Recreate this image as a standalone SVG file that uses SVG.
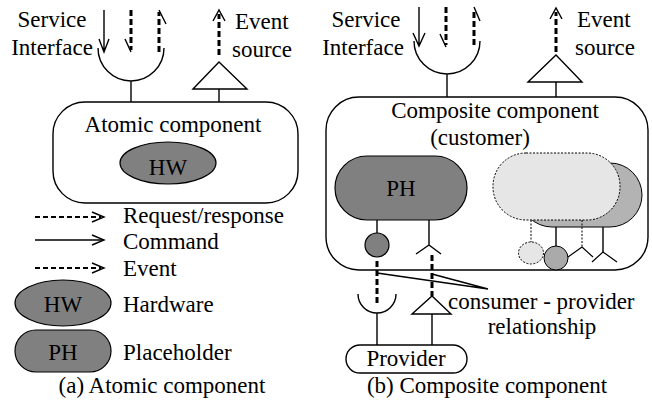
<svg xmlns="http://www.w3.org/2000/svg" width="652" height="407" viewBox="0 0 652 407" font-family="Liberation Serif, Times New Roman, serif" font-size="23">
<style>
.m{text-anchor:middle}
.ln{fill:none;stroke:#000;stroke-width:1.4}
.dsh{fill:none;stroke:#000;stroke-width:3;stroke-dasharray:6 3}
.ldsh{fill:none;stroke:#000;stroke-width:2;stroke-dasharray:5 3}
.dot{stroke:#000;stroke-width:1;stroke-dasharray:2 1.5}
.dark{fill:#808080;stroke:#000;stroke-width:1.2}
</style>
<rect width="652" height="407" fill="#fff"/>

<!-- ===== (a) Atomic component ===== -->
<g id="service-interface-a">
  <text class="m" x="52" y="27" font-family="Liberation Serif">Service</text>
  <text class="m" x="52" y="55" font-family="Liberation Serif">Interface</text>
  <path class="ln" d="M98,48 A33,33 0 0 0 164,48 M131,81 V102"/>
</g>
<g id="event-source-a">
  <path class="ln" d="M193,89 L219,62 L247,89 Z M219,89 V102"/>
  <text x="235" y="29" font-family="Liberation Serif">Event</text>
  <text x="232" y="57" font-family="Liberation Serif">source</text>
</g>
<g id="atomic-component">
  <rect x="53" y="102" width="245" height="101" rx="32" ry="32" fill="#fff" stroke="#000" stroke-width="1.4"/>
  <text class="m" x="173" y="132" font-family="Liberation Serif">Atomic component</text>
  <ellipse class="dark" cx="168" cy="163" rx="48" ry="21"/>
  <text class="m" x="168" y="175" font-family="Liberation Serif">HW</text>
</g>
<g id="legend">
  <path class="ldsh" d="M35,217 H101"/>
  <path class="ln" d="M92,212 L104,217 L92,222"/>
  <text x="123" y="223" font-family="Liberation Serif">Request/response</text>
  <path class="ln" d="M35,240 H102"/>
  <path class="ln" d="M92,235 L104,240 L92,245"/>
  <text x="123" y="249" font-family="Liberation Serif">Command</text>
  <path class="ldsh" d="M35,268 H101"/>
  <path class="ln" d="M92,263 L104,268 L92,273"/>
  <text x="123" y="276" font-family="Liberation Serif">Event</text>
  <ellipse class="dark" cx="63" cy="303" rx="48" ry="23"/>
  <text class="m" x="63" y="312" font-family="Liberation Serif">HW</text>
  <text x="123" y="312" font-family="Liberation Serif">Hardware</text>
  <rect class="dark" x="15" y="330" width="96" height="42" rx="21" ry="21"/>
  <text class="m" x="63" y="360" font-family="Liberation Serif">PH</text>
  <text x="123" y="360" font-family="Liberation Serif">Placeholder</text>
  <text class="m" x="162" y="393" font-family="Liberation Serif">(a) Atomic component</text>
</g>

<!-- ===== (b) Composite component ===== -->
<g id="service-interface-b">
  <text class="m" x="366" y="27" font-family="Liberation Serif">Service</text>
  <text class="m" x="363" y="55" font-family="Liberation Serif">Interface</text>
  <path class="ln" d="M414,41 A33,33 0 0 0 480,41 M447,74 V97"/>
</g>
<g id="event-source-b">
  <path class="ln" d="M528,82 L556,55 L582,82 Z M556,82 V97"/>
  <text x="577" y="27" font-family="Liberation Serif">Event</text>
  <text x="575" y="55" font-family="Liberation Serif">source</text>
</g>
<g id="composite-component">
  <rect x="326" y="97" width="322" height="173" rx="33" ry="33" fill="#fff" stroke="#000" stroke-width="1.4"/>
  <text class="m" x="495" y="118" font-family="Liberation Serif">Composite component</text>
  <text class="m" x="480" y="145" font-family="Liberation Serif">(customer)</text>
</g>
<g id="placeholder-ph">
  <rect class="dark" x="335" y="156" width="132" height="64" rx="32" ry="32"/>
  <text class="m" x="401" y="196" font-family="Liberation Serif">PH</text>
  <path class="ln" d="M377,220 V233 M429,220 V245 M429,245 L416,254 M429,245 L441,254"/>
  <circle class="dark" cx="377" cy="245" r="12"/>
</g>
<g id="inner-components">
  <rect x="520" y="163" width="122" height="64" rx="32" ry="32" fill="#b3b3b3" stroke="#000" stroke-width="1"/>
  <rect x="493" y="153" width="127" height="67" rx="33" ry="33" fill="#e6e6e6" class="dot"/>
  <path class="dot" d="M531,220 V242 M582,220 V247"/>
  <ellipse cx="531" cy="253" rx="12.5" ry="11" fill="#e6e6e6" class="dot"/>
  <path class="ln" d="M556,227 V247 M603,227 V252" stroke-width="1.2"/>
  <circle cx="556" cy="258" r="12" fill="#aaaaaa" stroke="#000" stroke-width="1"/>
  <path fill="none" stroke="#000" stroke-width="1.2" d="M568,257 L582,247 L593,257 M592,262 L603,252 L617,262"/>
</g>
<g id="provider">
  <path class="ln" d="M358,294 A19,19 0 0 0 396,294 M377,313 V345"/>
  <path class="ln" d="M412,314 L432,296 L451,314 Z M432,314 V345"/>
  <rect x="346" y="345" width="121" height="28" rx="14" ry="14" fill="#fff" stroke="#000" stroke-width="1.4"/>
  <text class="m" x="406" y="366" font-family="Liberation Serif">Provider</text>
  <text class="m" x="487" y="393" font-family="Liberation Serif">(b) Composite component</text>
</g>

<!-- ===== connectors ===== -->
<g id="connectors">
  <path class="ln" d="M104,10 V52 M99,39 L104,52 L109,39"/>
  <path class="dsh" d="M131,10 V50"/>
  <path class="ln" d="M125,39 L131,52"/>
  <path class="dsh" d="M159,52 V12"/>
  <path class="ln" d="M159,10 L166,24"/>
  <path class="dsh" d="M219,55 V14"/>
  <path class="ln" stroke-width="2" d="M213,21 L219,10 L225,21"/>
  <path class="ln" d="M419,7 V46 M413,33 L419,46 L425,33"/>
  <path class="dsh" d="M446,7 V45"/>
  <path class="ln" d="M440,34 L446,47"/>
  <path class="dsh" d="M474,45 V9"/>
  <path class="ln" d="M474,7 L480,21"/>
  <path class="dsh" d="M556,52 V12"/>
  <path class="ln" stroke-width="2" d="M550,19 L556,8 L562,19"/>
  <path class="dsh" d="M377,261 V306"/>
  <path class="dsh" d="M432,255 V296"/>
  <path class="ln" d="M377,273 L488,289 M432,274 L488,289"/>
  <text x="448" y="309" font-family="Liberation Serif">consumer - provider</text>
  <text class="m" x="542" y="334" font-family="Liberation Serif">relationship</text>
</g>
</svg>
